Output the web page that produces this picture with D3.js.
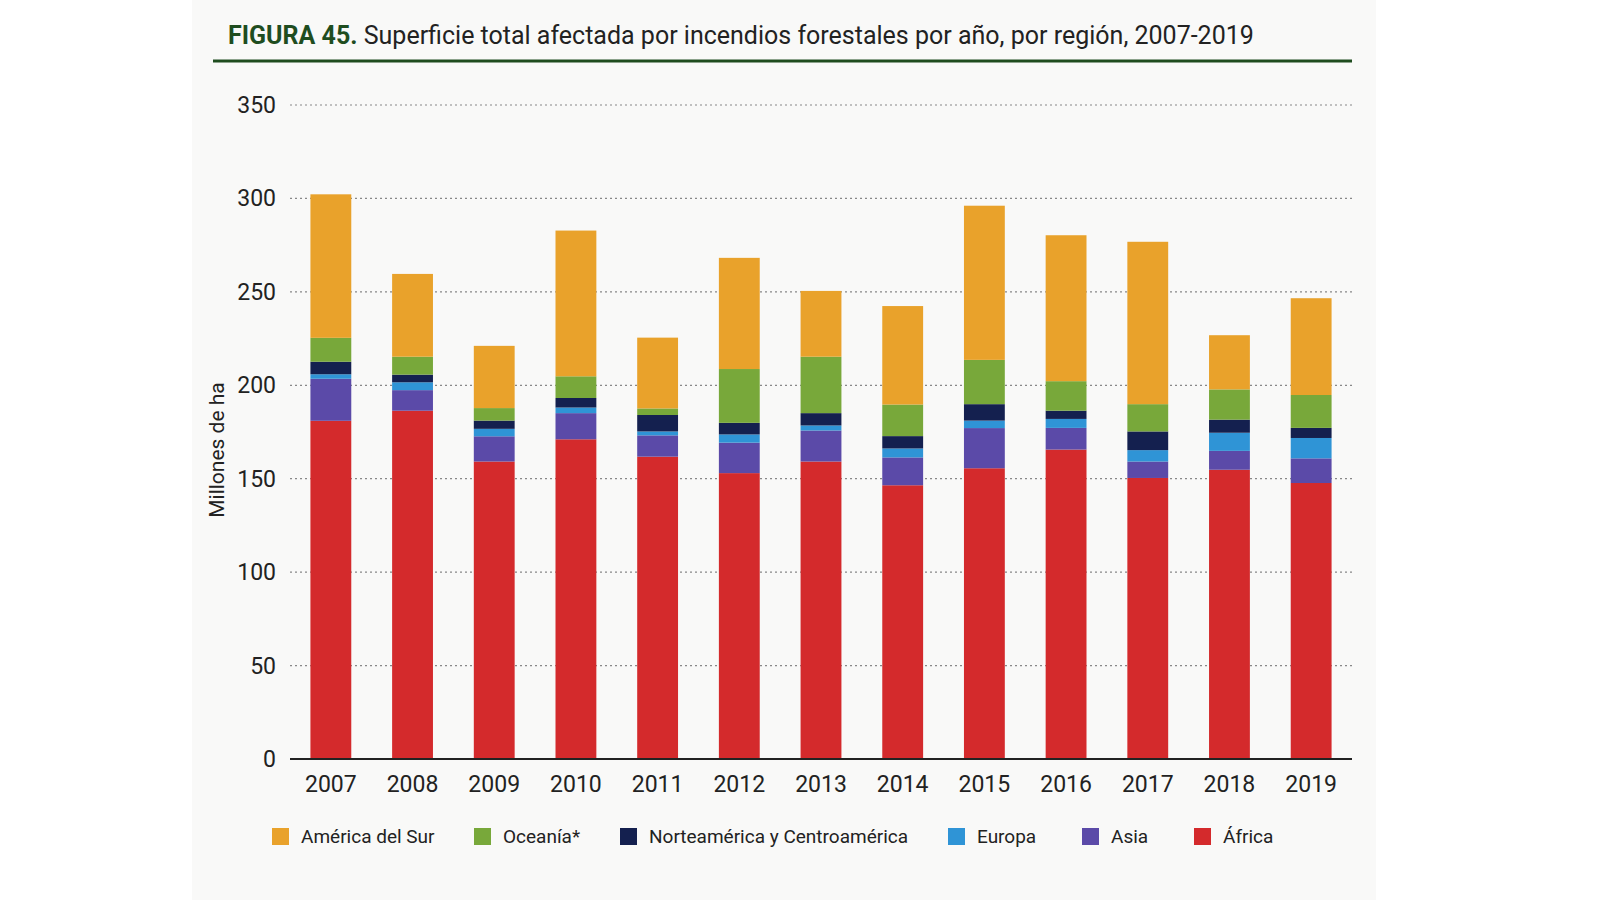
<!DOCTYPE html>
<html><head><meta charset="utf-8">
<script src="https://cdn.jsdelivr.net/npm/d3@7"></script>
<style>body{margin:0;background:#fff}svg{display:block}text{font-family:"Liberation Sans Narrow","Roboto",sans-serif}</style>
</head><body><svg id="c" width="1600" height="900"></svg>
<script>
const years=["2007","2008","2009","2010","2011","2012","2013","2014","2015","2016","2017","2018","2019"];
const africa=[181,186.4,159.2,171.1,161.8,153,159.2,146.5,155.6,165.6,150.4,154.8,147.7];
const asia=[22.5,11,13.5,14,11.4,16.3,16.6,14.9,21.5,11.6,8.8,10.1,13.2];
const europa=[2.4,4.2,4,3,2.1,4.4,2.7,4.8,4,4.8,6.1,9.7,10.9];
const norteamerica=[6.7,4.1,4.4,5.1,8.8,6.2,6.6,6.6,8.8,4.4,10,7,5.4];
const oceania=[12.8,9.6,6.7,11.6,3.5,28.8,30.2,16.9,23.7,15.8,14.6,16.2,17.6];
const americaSur=[76.8,44.3,33.3,78,37.9,59.5,35.2,52.7,82.5,78.1,86.9,29,51.8];
const yTicks=[0,50,100,150,200,250,300,350];
const seriesNames=["África","Asia","Europa","Norteamérica y Centroamérica","Oceanía*","América del Sur"];
const seriesData=[africa,asia,europa,norteamerica,oceania,americaSur];
const colors=["#d42a2c","#5b4aa8","#2f94d6","#14204f","#78a83a","#e9a22b"];
const legendOrder=[5,4,3,2,1,0];

const svg=d3.select("#c");
svg.append("rect").attr("x",192).attr("y",0).attr("width",1184).attr("height",900).attr("fill","#f9f9f8");
const x=d3.scaleBand().domain(years).range([290,1352]).paddingInner(0.5).paddingOuter(0.25);
const y=d3.scaleLinear().domain([0,350]).range([759,105]);

svg.append("text").attr("x",228).attr("y",44).attr("font-size",25).attr("fill","#222")
 .call(t=>{t.append("tspan").attr("font-weight","bold").attr("fill","#1f4d1f").text("FIGURA 45.");
 t.append("tspan").text(" Superficie total afectada por incendios forestales por año, por región, 2007-2019");});
svg.append("line").attr("x1",213).attr("x2",1352).attr("y1",61).attr("y2",61).attr("stroke","#1f4d1f").attr("stroke-width",3);

const g=svg.append("g");
g.selectAll("line.grid").data(yTicks.filter(d=>d>0)).join("line").attr("x1",290).attr("x2",1352)
 .attr("y1",d=>y(d)).attr("y2",d=>y(d)).attr("stroke","#888").attr("stroke-dasharray","2,3").attr("stroke-width",1.2);

const table=years.map((yr,i)=>{const o={year:yr};seriesNames.forEach((s,j)=>o[s]=seriesData[j][i]);return o;});
const stacked=d3.stack().keys(seriesNames)(table);
g.selectAll("g.s").data(stacked).join("g").attr("fill",(d,i)=>colors[i])
 .selectAll("rect").data(d=>d).join("rect")
 .attr("x",d=>x(d.data.year)).attr("width",x.bandwidth())
 .attr("y",d=>y(d[1])).attr("height",d=>y(d[0])-y(d[1]));

svg.append("line").attr("x1",290).attr("x2",1352).attr("y1",y(0)).attr("y2",y(0)).attr("stroke","#222").attr("stroke-width",2);
svg.selectAll("text.yt").data(yTicks).join("text").attr("x",276).attr("y",d=>y(d)+8).attr("text-anchor","end")
 .attr("font-size",23).attr("fill","#222").text(d=>d);
svg.selectAll("text.xt").data(years).join("text").attr("x",d=>x(d)+x.bandwidth()/2).attr("y",792).attr("text-anchor","middle")
 .attr("font-size",23).attr("fill","#222").text(d=>d);
svg.append("text").attr("transform","translate(224,450) rotate(-90)").attr("text-anchor","middle").attr("font-size",21).attr("fill","#222").text("Millones de ha");

const lx=[272,474,620,948,1082,1194];
const lg=svg.selectAll("g.l").data(legendOrder).join("g").attr("transform",(d,i)=>`translate(${lx[i]},828)`);
lg.append("rect").attr("width",17).attr("height",17).attr("fill",d=>colors[d]);
lg.append("text").attr("x",29).attr("y",15).attr("font-size",19).attr("fill","#222").text(d=>seriesNames[d]);
</script></body></html>
